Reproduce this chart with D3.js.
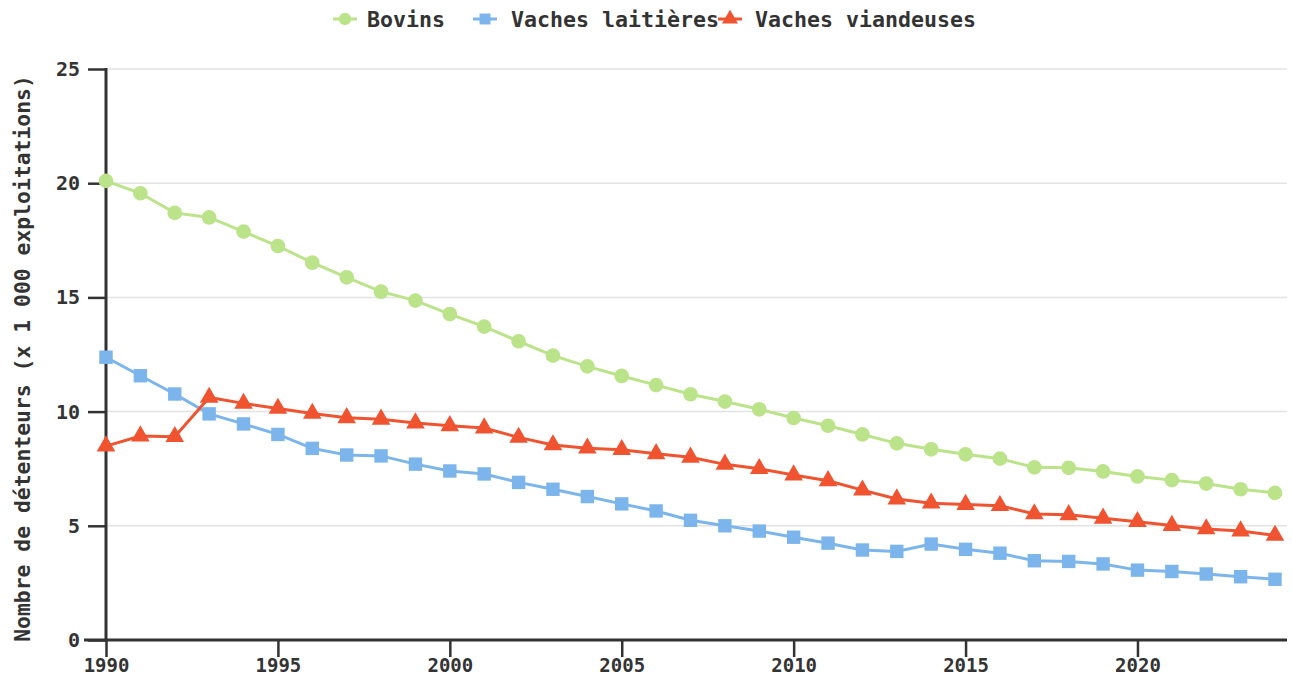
<!DOCTYPE html>
<html>
<head>
<meta charset="utf-8">
<script src="https://cdn.jsdelivr.net/npm/d3@7"></script>
<style>
  html, body { margin: 0; padding: 0; background: #fff; }
  svg { display: block; }
  text { font-family: "DejaVu Sans Mono", monospace; font-weight: bold; fill: #333; }
</style>
</head>
<body>
<svg id="chart" width="1292" height="677"></svg>
<script>
const years = d3.range(1990, 2025);
const bovins = [20.1, 19.56, 18.7, 18.5, 17.88, 17.25, 16.52, 15.88, 15.25, 14.86, 14.27,
  13.72, 13.08, 12.45, 11.98, 11.56, 11.16, 10.76, 10.44, 10.1, 9.72,
  9.38, 9.0, 8.61, 8.35, 8.13, 7.94, 7.56, 7.54, 7.38, 7.16,
  7.0, 6.85, 6.6, 6.44];
const vachesLaitieres = [12.38, 11.57, 10.77, 9.9, 9.46, 9.0, 8.39, 8.1, 8.06, 7.7, 7.4,
  7.27, 6.9, 6.6, 6.28, 5.96, 5.65, 5.24, 5.0, 4.77, 4.5,
  4.24, 3.94, 3.88, 4.2, 3.97, 3.8, 3.47, 3.44, 3.33, 3.06,
  3.0, 2.89, 2.77, 2.66];
const vachesViandeuses = [8.49, 8.93, 8.9, 10.62, 10.36, 10.14, 9.92, 9.73, 9.66, 9.5, 9.38,
  9.28, 8.87, 8.54, 8.4, 8.33, 8.15, 8.0, 7.69, 7.5, 7.22,
  6.97, 6.56, 6.17, 5.99, 5.93, 5.88, 5.52, 5.48, 5.33, 5.18,
  5.01, 4.86, 4.77, 4.58];
const seriesNames = ["Bovins", "Vaches laitières", "Vaches viandeuses"];
const seriesColors = ["#bbe389", "#7cb5ec", "#ef5330"];
const seriesSymbols = [d3.symbolCircle, d3.symbolSquare, d3.symbolTriangle];
const yTicks = [0, 5, 10, 15, 20, 25];
const xTicks = [1990, 1995, 2000, 2005, 2010, 2015, 2020];
const yTitle = "Nombre de détenteurs (x 1 000 exploitations)";

const seriesValues = [bovins, vachesLaitieres, vachesViandeuses];
const series = seriesNames.map((name, i) => ({
  name, color: seriesColors[i], symbol: seriesSymbols[i],
  points: years.map((yr, j) => ({ year: yr, value: seriesValues[i][j] }))
}));

const svg = d3.select("#chart");
const mLeft = 106, mRight = 1275, axisEnd = 1287, mTop = 69, mBottom = 640;

const x = d3.scaleLinear().domain([1990, 2024]).range([mLeft, mRight]);
const y = d3.scaleLinear().domain([0, 25]).range([mBottom, mTop]);

// grid
svg.append("g").selectAll("line").data(yTicks.filter(d => d > 0)).join("line")
  .attr("x1", mLeft).attr("x2", axisEnd)
  .attr("y1", d => y(d)).attr("y2", d => y(d))
  .attr("stroke", "#e3e3e3").attr("stroke-width", 1.5);

// y axis
const yAxis = svg.append("g").attr("transform", `translate(${mLeft},0)`)
  .call(d3.axisLeft(y).tickValues(yTicks).tickSize(18).tickPadding(8));
yAxis.select(".domain").remove();
yAxis.selectAll(".tick line").attr("stroke", "#333").attr("stroke-width", 2.5);
yAxis.selectAll(".tick text").attr("font-size", 20).attr("font-family", null).attr("fill", "#333");
svg.append("line").attr("x1", mLeft).attr("x2", mLeft).attr("y1", y(25) - 1).attr("y2", y(0))
  .attr("stroke", "#333").attr("stroke-width", 3);

// x axis
const xAxis = svg.append("g").attr("transform", `translate(0,${mBottom})`)
  .call(d3.axisBottom(x).tickValues(xTicks).tickFormat(d3.format("d")).tickSize(17).tickPadding(1));
xAxis.select(".domain").remove();
xAxis.selectAll(".tick line").attr("stroke", "#333").attr("stroke-width", 2.5);
xAxis.selectAll(".tick text").attr("font-size", 19).attr("font-family", null).attr("fill", "#333")
  .attr("y", 32).attr("dy", 0);
svg.append("line").attr("x1", mLeft - 22).attr("x2", axisEnd).attr("y1", mBottom).attr("y2", mBottom)
  .attr("stroke", "#333").attr("stroke-width", 3);

// y title
svg.append("text")
  .attr("transform", `translate(30,${(mTop + mBottom) / 2 + 4}) rotate(-90)`)
  .attr("text-anchor", "middle").attr("font-size", 21.4)
  .text(yTitle);

// lines
const line = d3.line().x(d => x(d.year)).y(d => y(d.value));
const g = svg.append("g");
series.forEach(s => {
  g.append("path").datum(s.points).attr("d", line)
    .attr("fill", "none").attr("stroke", s.color).attr("stroke-width", 3);
});
series.forEach(s => {
  g.append("g").selectAll("path").data(s.points).join("path")
    .attr("transform", d => `translate(${x(d.year)},${y(d.value)})`)
    .attr("d", d3.symbol().type(s.symbol).size(s.symbol === d3.symbolTriangle ? 150 : (s.symbol === d3.symbolSquare ? 180 : 170)))
    .attr("fill", s.color);
});

// legend
const legendX = [333, 473, 718];
const lg = svg.append("g");
series.forEach((s, i) => {
  const it = lg.append("g").attr("transform", `translate(${legendX[i]},19)`);
  it.append("line").attr("x1", 0).attr("x2", 24).attr("stroke", s.color).attr("stroke-width", 3);
  it.append("path").attr("transform", "translate(12,0)")
    .attr("d", d3.symbol().type(s.symbol).size(s.symbol === d3.symbolTriangle ? 110 : 120)).attr("fill", s.color);
  it.append("text").attr("x", i === 1 ? 38 : (i === 0 ? 34 : 37)).attr("dy", "0.35em").attr("font-size", 21.6).text(s.name);
});
</script>
</body>
</html>
